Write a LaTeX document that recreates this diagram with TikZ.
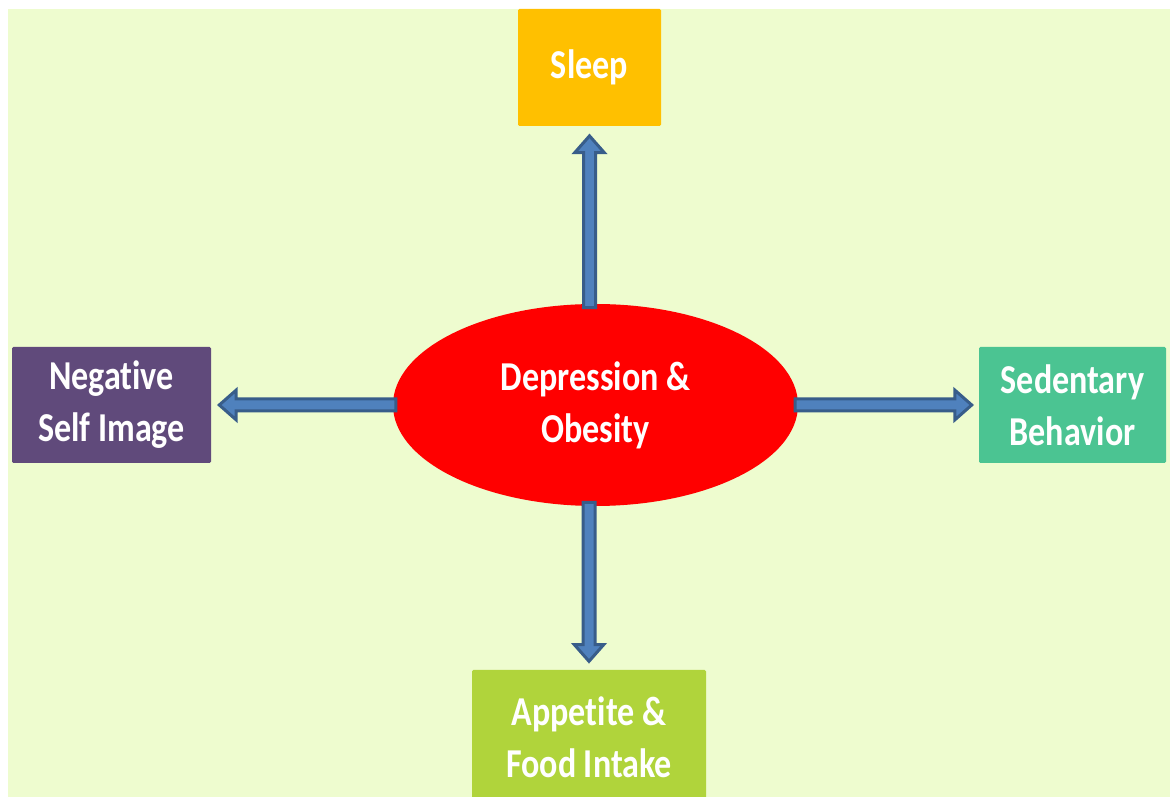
\documentclass[tikz,border=0pt]{standalone}
\usepackage{fontspec}
\setmainfont{Carlito}[FakeStretch=0.83, RawFeature={-liga;-clig;-dlig;-calt}]
\usetikzlibrary{calc,positioning,shapes.geometric}
\definecolor{bggreen}{RGB}{238,252,207}
\definecolor{sleepyellow}{RGB}{255,192,0}
\definecolor{selfpurple}{RGB}{96,74,123}
\definecolor{sitgreen}{RGB}{75,196,146}
\definecolor{foodgreen}{RGB}{176,212,59}
\definecolor{arrowblue}{RGB}{79,129,189}
\definecolor{arrowedge}{RGB}{56,93,138}
\tikzset{
	box/.style={rectangle, rounded corners=1pt, text=white, align=center, inner sep=0pt,
		font=\bfseries\fontsize{29.2}{37}\selectfont},
	arrowline/.style={fill=arrowblue, draw=arrowedge, line width=0.075cm, line join=miter}
}
\def\fatarrow(#1)(#2){
	\coordinate (hb) at ($(#2)!0.42cm!(#1)$);
	\draw[arrowline] ($(#1)!0.15cm!90:(#2)$) -- ($(hb)!0.15cm!90:(#2)$) -- ($(hb)!0.37cm!90:(#2)$)
		-- (#2) -- ($(hb)!0.37cm!-90:(#2)$) -- ($(hb)!0.15cm!-90:(#2)$) -- ($(#1)!0.15cm!-90:(#2)$) -- cycle;
}

\begin{document}
\begin{tikzpicture}
			%%%%% START %%%%%
			
			\useasboundingbox (0, 0) rectangle (29.25, 19.925);
			\clip (0, 0) rectangle (29.25, 19.925);
			\fill[bggreen] (0.2, 0) rectangle (29.25, 19.7);
			
			\node[ellipse, fill=red, text=white, align=center, inner sep=0pt,
				minimum width=10.125cm, minimum height=5.05cm,
				font=\bfseries\fontsize{29.2}{37}\selectfont] (ell) at (14.8875, 9.8) {Depression \&\\Obesity};
			
			\node[box, fill=sleepyellow, minimum width=3.575cm, minimum height=2.925cm] (sleep) at (14.7375, 18.2375) {Sleep};
			\node[box, fill=selfpurple, minimum width=4.975cm, minimum height=2.9cm] (self) at (2.7875, 9.8) {Negative\\Self Image};
			\node[box, fill=sitgreen, minimum width=4.675cm, minimum height=2.9cm] (sit) at (26.8125, 9.8) {Sedentary\\Behavior};
			\node[box, fill=foodgreen, minimum width=5.85cm, minimum height=3.35cm] (food) at (14.725, 1.5) {Appetite \&\\Food Intake};
			
			\coordinate (up0) at ($(sleep.south |- ell.north)+(0, -0.1)$);
			\coordinate (up1) at ($(sleep.south)+(0, -0.24)$);
			\coordinate (dn0) at ($(food.north |- ell.south)+(0, 0.1)$);
			\coordinate (dn1) at ($(food.north)+(0, 0.21)$);
			\coordinate (lt0) at ($(ell.west)+(0.08, 0)$);
			\coordinate (lt1) at ($(self.east)+(0.2, 0)$);
			\coordinate (rt0) at ($(ell.east)+(-0.08, 0)$);
			\coordinate (rt1) at ($(sit.west)+(-0.175, 0)$);
			
			\fatarrow(up0)(up1)
			\fatarrow(dn0)(dn1)
			\fatarrow(lt0)(lt1)
			\fatarrow(rt0)(rt1)
			
			%%%%% END %%%%%
		\end{tikzpicture}
\end{document}
